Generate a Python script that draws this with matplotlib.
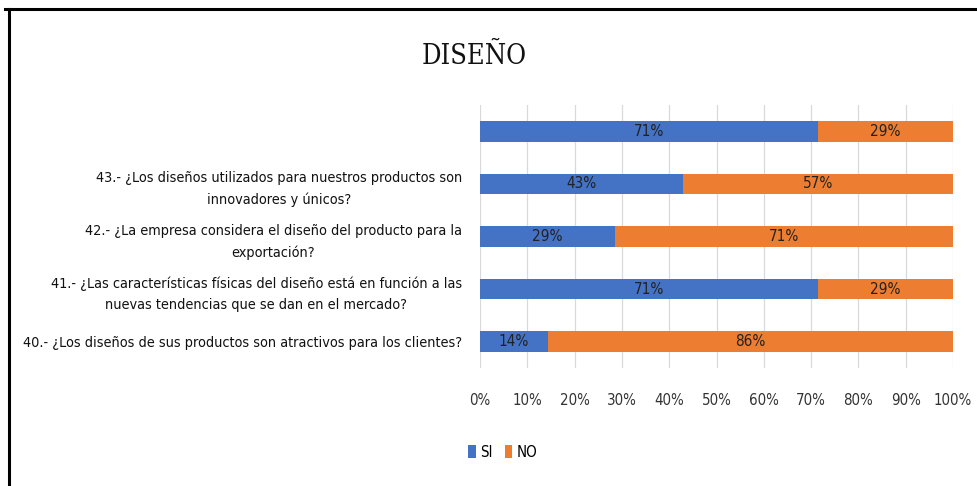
import matplotlib

matplotlib.use("Agg")
import matplotlib.pyplot as plt
from matplotlib import font_manager
from matplotlib.lines import Line2D
from matplotlib.patches import Patch

# Data (percent of respondents), bottom to top
questions = [
    "40.- ¿Los diseños de sus productos son atractivos para los clientes?",
    "41.- ¿Las características físicas del diseño está en función a las\nnuevas tendencias que se dan en el mercado?",
    "42.- ¿La empresa considera el diseño del producto para la\nexportación?",
    "43.- ¿Los diseños utilizados para nuestros productos son\ninnovadores y únicos?",
    "",
]
si_values = [14.3, 71.4, 28.6, 42.9, 71.4]
no_values = [85.7, 28.6, 71.4, 57.1, 28.6]
series_names = ["SI", "NO"]
x_ticks = [0, 10, 20, 30, 40, 50, 60, 70, 80, 90, 100]

BLUE = "#4472C4"
ORANGE = "#ED7D31"


def find_narrow(want_serif):
    # the original uses a condensed look, pick a narrow face if one is installed
    for f in font_manager.fontManager.ttflist:
        fn = f.fname.lower()
        if not ("narrow" in fn or "condensed" in fn):
            continue
        if any(k in fn for k in ("bold", "italic", "oblique", "mono", "light")):
            continue
        is_serif = "serif" in fn and "sans" not in fn
        if is_serif == want_serif:
            return f
    return None


narrow = find_narrow(False)
if narrow is not None:
    plt.rcParams["font.family"] = [narrow.name, "DejaVu Sans"]
    plt.rcParams["font.stretch"] = narrow.stretch
    size = 10.4
else:
    plt.rcParams["font.family"] = ["Liberation Sans", "DejaVu Sans"]
    size = 10.2

narrow_serif = find_narrow(True)
if narrow_serif is not None:
    title_kw = {"family": narrow_serif.name, "stretch": narrow_serif.stretch, "fontsize": 19.5}
else:
    title_kw = {"family": "Liberation Serif", "fontsize": 19, "stretch": "normal"}

fig = plt.figure(figsize=(9.77, 4.86), dpi=100)
ax = fig.add_axes([480 / 977, 1 - 368 / 486, 473 / 977, 263 / 486])

y = list(range(len(questions)))
bars_si = ax.barh(y, si_values, height=0.39, color=BLUE, label=series_names[0], zorder=3)
bars_no = ax.barh(y, no_values, left=si_values, height=0.39, color=ORANGE,
                  label=series_names[1], zorder=3)

for bars, vals in [(bars_si, si_values), (bars_no, no_values)]:
    for rect, v in zip(bars, vals):
        cx = rect.get_x() + rect.get_width() / 2
        cy = rect.get_y() + rect.get_height() / 2
        ax.text(cx, cy, f"{v:.0f}%", ha="center", va="center", fontsize=size + 0.6,
                color="#222222", zorder=4)

ax.set_xlim(0, 100)
ax.set_ylim(-0.5, len(questions) - 0.5)
ax.set_xticks(x_ticks)
ax.set_xticklabels([f"{t}%" for t in x_ticks], fontsize=size + 0.4, color="#333333")
ax.set_yticks(y)
ax.set_yticklabels(questions, fontsize=size, color="#111111", multialignment="center",
                   linespacing=1.65)
ax.tick_params(axis="both", length=0)
ax.tick_params(axis="x", pad=18)
ax.tick_params(axis="y", pad=13)
ax.grid(True, axis="x", color="#D9D9D9", linewidth=0.9, zorder=0)
for s in ax.spines.values():
    s.set_visible(False)

fig.text(474 / 977, 1 - 56 / 486, "DISEÑO", ha="center", va="center",
         color="#111111", **title_kw)

handles = [Patch(facecolor=BLUE), Patch(facecolor=ORANGE)]
fig.legend(handles, series_names, loc="center", bbox_to_anchor=(503 / 977, 1 - 452 / 486),
           ncol=2, frameon=False, fontsize=size + 0.4, handlelength=0.5, handleheight=0.9,
           handletextpad=0.3, columnspacing=0.8)

# outer frame (top and left edges)
fig.add_artist(Line2D([5 / 977, 1], [1 - 9 / 486, 1 - 9 / 486], color="black",
                      linewidth=2.2, transform=fig.transFigure))
fig.add_artist(Line2D([9 / 977, 9 / 977], [0, 1 - 9 / 486], color="black",
                      linewidth=2.2, transform=fig.transFigure))

fig.savefig("out.png", dpi=100)
